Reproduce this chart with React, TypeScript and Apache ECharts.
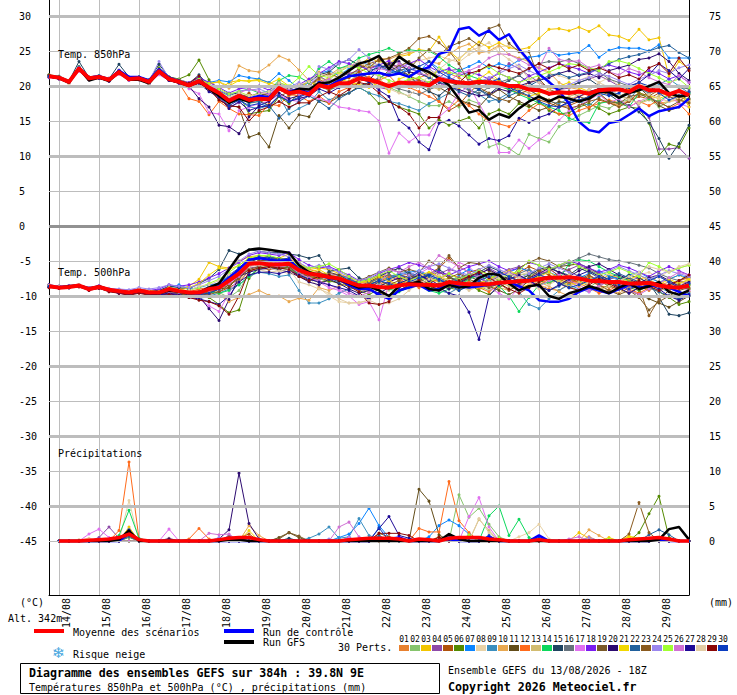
import React, { useEffect, useRef } from "react";
import * as echarts from "echarts";

const DATES = ["14/08","15/08","16/08","17/08","18/08","19/08","20/08","21/08","22/08","23/08","24/08","25/08","26/08","27/08","28/08","29/08"];
const LEFT_TICKS = [30,25,20,15,10,5,0,-5,-10,-15,-20,-25,-30,-35,-40,-45];
const RIGHT_TICKS = [75,70,65,60,55,50,45,40,35,30,25,20,15,10,5,0];
const MAJOR_LINES = [30,20,10,-10,-20,-30,-40];
const MINOR_LINES = [25,15,5,-5,-15,-25,-35,-45];
const COLORS = ["#e8812f","#86c46c","#f2c500","#8e4aa8","#b0520a","#548a00","#0a84ff","#e8d2a6","#3a8fbf","#e8a850","#624c18","#ff6a1a","#d2bc70","#0cd85c","#1f4460","#66727c","#e070f0","#7a1cf0","#7a5a28","#2c0a70","#f2d800","#20609c","#8a5a1e","#9a86ee","#a0ff30","#d070d4","#1e0a96","#e2cca4","#8a0606","#0a3cc0"];

// Members are stored in tenths of a degree.
const T850 = [
[215,212,207,224,212,213,210,219,211,212,207,220,211,
207,202,208,199,190,179,186,178,181,183,197,186,190,
187,199,195,201,207,216,213,207,201,205,208,212,217,
221,218,212,203,196,202,208,199,195,205,210,195,187,
182,185,190,197,199,201,196,205,198,193,187,184,180],
[214,211,205,223,210,212,208,219,209,210,205,219,209,
205,201,205,197,188,176,184,175,178,180,195,189,196,
194,212,208,222,216,220,210,205,198,192,185,178,172,
172,178,170,180,175,113,118,111,101,131,125,120,142,
150,158,165,172,168,177,180,176,182,170,178,186,181],
[213,211,206,226,211,214,209,221,210,212,207,222,209,
206,200,206,197,195,205,208,207,210,205,200,195,192,
190,205,212,218,222,230,240,235,232,242,245,252,250,
270,250,238,252,263,255,262,255,252,255,268,281,282,
279,284,278,286,273,271,265,281,266,269,214,235,225],
[216,213,207,226,213,215,211,223,212,213,208,223,212,
208,204,210,200,185,170,176,182,186,190,205,196,194,
200,215,205,212,218,222,210,198,195,202,206,208,205,
212,222,224,210,203,208,220,232,225,215,205,198,195,
197,205,210,215,208,200,190,170,155,110,110,112,97],
[214,212,206,225,211,213,209,220,210,211,206,221,210,
206,201,204,194,186,176,182,190,180,172,185,192,198,
200,210,200,206,212,220,226,230,222,225,215,208,195,
178,165,173,190,203,210,200,195,190,185,180,176,170,
172,178,168,180,176,172,178,185,182,190,188,186,192],
[216,214,208,228,212,214,210,222,212,213,209,226,213,
210,216,237,209,195,180,188,160,163,165,185,175,190,
198,205,195,200,205,198,190,175,178,170,165,160,140,
152,144,150,155,140,160,166,160,175,170,178,165,160,
162,170,175,168,160,165,170,168,147,101,117,113,140],
[215,214,208,227,213,215,211,222,212,213,209,223,212,
208,204,212,205,208,206,215,212,210,205,218,208,196,
205,218,222,215,225,235,230,228,222,218,225,220,235,
225,215,222,228,235,226,232,228,237,241,243,250,244,
246,248,258,241,251,255,254,254,250,259,240,240,240],
[213,211,205,222,210,212,208,218,209,210,205,218,209,
206,200,204,196,190,182,188,178,182,186,198,190,195,
200,212,205,216,222,236,228,232,225,230,233,236,240,
243,238,234,245,252,248,256,258,250,232,225,218,215,
210,208,214,205,212,200,195,205,198,192,190,195,200],
[214,212,206,224,211,212,209,219,210,211,206,220,210,
205,200,205,196,188,175,180,170,168,172,186,160,168,
175,192,180,186,190,198,190,186,178,175,170,165,175,
182,190,205,195,188,178,182,190,198,195,185,178,175,
182,178,172,185,192,188,180,198,190,202,210,200,190],
[215,213,207,226,213,214,210,221,211,212,207,222,211,
208,203,210,203,206,197,229,222,220,230,243,237,223,
208,220,215,225,228,232,226,240,238,244,248,250,235,
232,245,255,260,247,250,258,245,240,235,226,220,205,
198,195,190,188,178,172,180,190,182,175,178,180,175],
[214,212,206,224,210,212,208,219,209,210,205,220,209,
205,200,206,197,180,172,170,127,132,113,158,140,159,
156,180,176,185,190,200,205,210,222,228,235,225,215,
198,190,180,175,170,186,195,185,178,172,165,170,178,
175,180,185,192,188,185,192,198,185,172,165,170,182],
[213,210,205,222,209,211,207,217,208,209,204,217,208,
204,182,178,159,178,168,160,159,158,174,172,188,186,
178,186,175,192,198,206,212,208,215,200,198,192,185,
178,168,180,172,160,150,146,142,152,165,175,168,160,
158,165,170,175,180,176,170,178,172,180,168,175,160],
[214,212,206,225,211,213,209,220,210,211,207,220,210,
206,201,206,198,191,183,187,182,186,188,198,192,197,
194,206,200,210,215,210,206,200,205,198,210,205,200,
195,205,202,198,205,212,208,200,195,190,186,180,182,
185,190,195,188,192,186,182,175,180,186,190,180,178],
[215,213,207,225,212,213,210,220,211,211,208,221,212,
208,203,208,200,193,186,192,196,190,193,208,215,213,
205,225,235,225,230,240,245,249,254,247,252,250,250,
242,230,222,215,210,205,200,195,188,182,176,170,165,
154,149,148,175,178,176,170,190,182,178,188,192,190],
[214,213,207,235,212,214,210,231,213,213,208,231,213,
209,204,216,200,193,188,190,182,186,190,203,196,200,
206,216,220,232,238,230,222,226,230,220,216,200,192,
186,198,205,200,195,188,200,208,215,205,195,188,195,
200,205,210,200,188,178,172,163,148,125,97,118,144],
[214,212,207,225,211,213,209,220,211,211,206,221,210,
206,201,207,198,190,180,186,180,183,182,196,188,190,
186,200,194,200,205,212,208,204,200,196,192,188,195,
200,206,200,194,190,198,205,210,215,225,232,235,234,
238,232,225,220,210,205,200,196,190,194,200,198,196],
[212,210,205,221,209,211,207,217,208,209,204,216,208,
204,196,189,162,160,136,165,170,175,178,188,180,178,
188,182,178,170,168,165,163,150,104,133,120,130,130,
156,168,190,200,175,150,105,105,123,111,123,133,151,
165,172,180,188,176,182,170,178,184,176,186,175,170],
[215,213,208,226,213,214,211,222,212,212,208,224,212,
209,205,212,205,198,190,196,198,200,194,205,198,202,
210,218,226,235,232,228,224,230,236,225,232,238,228,
220,225,215,220,216,210,218,212,205,214,220,226,232,
228,224,218,225,230,226,220,216,222,218,210,215,205],
[214,212,206,225,212,213,209,220,210,211,206,221,210,
206,201,207,199,191,182,188,184,180,186,198,192,196,
200,212,218,212,222,230,226,238,230,228,224,240,252,
244,256,262,268,258,282,287,261,249,249,210,195,190,
192,185,180,190,178,175,185,188,184,176,170,178,188],
[213,211,205,224,210,212,208,219,209,210,205,220,209,
205,200,182,170,144,142,132,156,172,178,190,182,186,
190,205,198,200,206,212,208,225,232,235,220,218,212,
205,198,195,190,186,188,196,192,200,205,208,212,218,
222,215,218,212,222,226,230,238,240,246,235,218,208],
[214,212,207,225,212,213,210,220,211,211,207,221,211,
207,203,209,204,206,200,208,207,208,203,210,200,198,
206,200,195,210,206,202,198,205,192,210,215,222,225,
212,200,198,205,210,220,208,200,192,185,190,196,200,
205,198,192,190,195,200,196,190,186,182,188,194,170],
[214,213,207,226,212,214,210,221,212,212,208,223,212,
208,203,208,197,186,178,182,176,178,172,154,168,178,
186,178,168,182,190,198,205,212,218,222,226,220,212,
206,200,192,186,195,185,178,186,192,200,208,215,218,
212,216,220,225,232,238,242,245,250,255,258,248,240],
[215,212,206,224,211,213,209,220,210,212,207,221,210,
207,202,207,198,189,182,187,185,190,186,195,188,194,
198,206,196,204,215,225,232,236,240,246,254,268,271,
262,250,232,205,198,190,182,178,188,195,186,180,172,
168,172,178,182,176,170,178,190,186,194,185,180,176],
[214,212,206,226,212,213,210,221,211,212,207,235,211,
208,204,209,201,194,187,193,194,196,190,204,198,205,
196,228,224,232,238,252,240,228,220,226,232,218,225,
214,210,205,198,206,212,218,225,230,222,215,205,198,
202,208,212,218,214,208,202,210,215,222,218,226,230],
[215,213,208,225,213,214,210,221,212,212,208,222,212,
209,204,210,202,196,189,192,186,188,192,205,200,212,
228,215,212,220,228,226,218,215,208,204,210,212,205,
226,220,216,212,222,228,218,212,205,210,215,220,226,
232,230,226,222,235,236,232,225,218,212,205,210,198],
[213,211,206,224,211,212,209,219,210,211,206,220,210,
206,202,206,196,188,182,190,196,192,188,200,194,188,
192,205,210,205,200,212,218,225,222,232,226,218,215,
200,206,218,222,228,240,246,245,238,230,226,254,238,
235,236,226,230,220,216,225,220,212,206,202,215,205],
[213,210,205,223,209,211,207,218,209,209,203,219,208,
204,199,204,192,184,168,178,165,170,172,186,178,182,
186,196,190,198,205,210,206,194,185,151,140,120,109,
147,151,143,130,117,125,122,129,154,148,155,160,170,
178,185,192,196,190,195,200,205,216,232,222,210,225],
[214,212,202,224,211,213,209,219,210,211,201,220,210,
207,202,206,199,192,184,190,186,188,192,204,198,202,
206,218,214,222,228,236,224,212,196,190,186,200,215,
224,235,240,250,255,262,248,238,228,210,205,195,186,
180,188,194,205,198,186,180,176,188,182,178,185,192],
[215,213,207,225,212,214,210,221,211,212,207,223,212,
208,204,214,196,180,172,170,150,165,170,178,170,176,
176,185,192,186,195,205,202,190,178,170,160,140,155,
155,195,205,218,222,230,226,222,218,225,232,225,232,
225,230,222,226,220,212,216,210,226,232,218,240,222],
[214,212,206,225,211,213,209,220,211,211,206,221,211,
207,202,208,198,186,172,180,172,175,170,186,178,184,
190,205,198,208,215,212,218,230,225,218,222,228,235,
220,212,206,200,196,205,210,198,192,186,178,172,170,
176,180,184,190,186,190,198,205,200,190,180,186,192],
];
const T850_CONTROL = [214,212,206,226,212,214,209,222,213,213,208,224,212,
207,202,208,199,190,180,186,182,186,184,196,192,196,
190,205,200,208,214,216,218,219,215,218,213,222,227,
246,250,281,284,272,279,266,274,253,236,217,206,193,
175,149,137,134,147,150,159,168,157,164,167,170,182];
const T850_GFS = [214,211,205,225,208,212,207,221,209,209,204,220,209,
205,200,206,196,186,176,182,178,182,180,196,190,196,
195,204,205,212,222,232,236,243,224,242,232,225,220,
211,201,182,162,166,152,160,155,168,178,185,178,185,
182,178,182,192,192,183,190,194,200,206,190,185,187];
const T850_MEAN = [214,212,206,225,211,213,209,220,210,211,206,221,210,
206,201,207,198,190,179,186,180,182,181,197,190,192,
188,201,198,204,204,211,209,205,200,205,204,204,201,
210,207,205,204,206,205,204,200,200,195,194,189,191,
190,192,189,194,195,195,192,200,194,194,188,193,187];

const T500 = [
[-85,-87,-86,-85,-89,-88,-92,-94,-95,-93,-96,-97,-92,
-95,-98,-98,-92,-88,-75,-62,-52,-50,-50,-48,-46,-55,
-62,-66,-70,-72,-78,-85,-88,-80,-88,-92,-85,-78,-75,
-72,-85,-90,-80,-82,-76,-70,-78,-85,-80,-84,-90,-92,
-82,-75,-78,-85,-88,-82,-78,-85,-92,-85,-80,-88,-85],
[-86,-87,-86,-86,-90,-87,-91,-92,-94,-92,-94,-95,-90,
-92,-96,-94,-92,-95,-102,-92,-68,-56,-52,-55,-56,-68,
-74,-75,-80,-78,-84,-90,-82,-78,-85,-82,-76,-80,-88,
-92,-84,-80,-78,-86,-92,-85,-75,-70,-68,-72,-78,-80,
-86,-92,-88,-78,-76,-72,-80,-84,-78,-72,-78,-84,-90],
[-84,-87,-87,-84,-89,-86,-90,-92,-94,-90,-94,-93,-88,
-90,-86,-76,-52,-58,-60,-50,-44,-42,-44,-46,-40,-52,
-62,-60,-62,-68,-74,-78,-82,-72,-70,-78,-86,-84,-80,
-78,-74,-76,-84,-90,-86,-78,-82,-88,-84,-76,-72,-78,
-84,-80,-74,-78,-70,-74,-82,-76,-72,-80,-76,-70,-78],
[-87,-89,-88,-86,-91,-88,-93,-96,-98,-95,-98,-99,-96,
-97,-100,-102,-96,-90,-80,-72,-60,-58,-60,-58,-56,-70,
-76,-72,-68,-70,-74,-82,-78,-70,-66,-60,-66,-72,-78,
-68,-62,-66,-74,-70,-60,-68,-62,-58,-66,-70,-74,-68,
-62,-56,-62,-70,-76,-72,-78,-74,-82,-90,-84,-78,-82],
[-86,-88,-87,-85,-90,-87,-92,-95,-98,-94,-98,-98,-94,
-96,-97,-100,-96,-94,-88,-80,-64,-60,-62,-60,-58,-66,
-70,-74,-78,-72,-80,-88,-82,-74,-70,-72,-68,-74,-68,
-60,-46,-58,-66,-62,-70,-78,-72,-66,-58,-64,-70,-76,
-82,-78,-72,-76,-82,-86,-78,-84,-90,-82,-92,-100,-94],
[-86,-88,-87,-86,-90,-88,-92,-93,-96,-93,-97,-95,-92,
-95,-98,-102,-102,-112,-124,-120,-75,-60,-58,-62,-58,-70,
-76,-80,-78,-82,-86,-92,-98,-90,-84,-88,-80,-86,-90,
-82,-88,-92,-84,-92,-98,-88,-80,-76,-70,-78,-82,-74,
-70,-78,-86,-92,-84,-80,-88,-92,-86,-94,-102,-112,-108],
[-85,-86,-86,-84,-88,-86,-90,-92,-94,-91,-94,-92,-88,
-84,-90,-88,-84,-82,-72,-60,-52,-46,-44,-50,-48,-58,
-66,-72,-76,-70,-76,-84,-86,-78,-74,-70,-66,-64,-70,
-76,-82,-70,-62,-68,-74,-70,-66,-60,-64,-70,-66,-72,
-78,-74,-68,-64,-72,-76,-70,-66,-74,-80,-76,-70,-74],
[-86,-88,-88,-86,-90,-88,-91,-94,-95,-93,-95,-97,-93,
-95,-97,-96,-94,-90,-82,-78,-60,-62,-66,-64,-68,-70,
-74,-88,-100,-108,-110,-109,-106,-98,-92,-86,-80,-76,-84,
-90,-96,-88,-80,-84,-90,-82,-76,-70,-66,-72,-80,-76,
-70,-76,-82,-74,-68,-72,-78,-70,-66,-74,-64,-60,-56],
[-87,-88,-87,-85,-90,-87,-91,-93,-96,-92,-95,-96,-94,
-96,-100,-104,-100,-96,-90,-84,-72,-66,-68,-72,-70,-92,
-110,-110,-104,-96,-90,-88,-84,-78,-72,-68,-66,-74,-84,
-92,-96,-88,-80,-86,-78,-70,-82,-94,-112,-118,-104,-92,
-84,-90,-94,-86,-78,-84,-90,-82,-76,-88,-94,-100,-96],
[-85,-87,-86,-85,-89,-86,-90,-92,-94,-90,-94,-94,-90,
-92,-94,-92,-90,-98,-108,-102,-98,-92,-99,-100,-108,-103,
-106,-88,-92,-86,-82,-90,-94,-86,-78,-72,-76,-70,-74,
-80,-84,-78,-70,-74,-80,-88,-92,-84,-78,-80,-86,-94,
-100,-94,-90,-86,-92,-96,-88,-82,-88,-94,-86,-80,-84],
[-86,-88,-87,-86,-91,-88,-93,-95,-97,-94,-98,-100,-96,
-96,-92,-98,-96,-90,-88,-70,-52,-46,-45,-48,-46,-60,
-68,-72,-66,-70,-78,-88,-90,-96,-100,-92,-86,-78,-70,
-66,-74,-80,-72,-78,-86,-92,-98,-90,-78,-70,-64,-58,
-56,-54,-60,-68,-78,-86,-92,-98,-104,-110,-116,-108,-100],
[-85,-86,-87,-84,-89,-86,-90,-92,-93,-91,-93,-94,-89,
-90,-94,-90,-88,-84,-74,-64,-56,-50,-52,-54,-52,-64,
-72,-76,-70,-76,-84,-92,-86,-80,-72,-76,-82,-88,-80,
-76,-68,-74,-80,-88,-94,-84,-76,-72,-78,-84,-76,-70,
-76,-82,-88,-96,-92,-84,-90,-96,-88,-80,-86,-78,-74],
[-86,-88,-86,-85,-90,-87,-91,-93,-95,-92,-95,-95,-90,
-93,-95,-95,-90,-86,-76,-70,-56,-54,-56,-57,-55,-64,
-70,-72,-75,-78,-84,-88,-92,-86,-80,-84,-78,-72,-80,
-86,-82,-76,-84,-78,-72,-80,-86,-92,-86,-78,-74,-80,
-86,-80,-84,-90,-86,-78,-74,-80,-76,-84,-90,-82,-78],
[-87,-88,-88,-86,-90,-88,-92,-94,-96,-93,-96,-96,-92,
-94,-96,-96,-94,-96,-92,-84,-72,-60,-56,-60,-62,-68,
-76,-72,-70,-74,-80,-88,-92,-84,-90,-94,-88,-82,-92,
-96,-90,-84,-76,-70,-78,-86,-100,-122,-102,-84,-80,-76,
-54,-48,-50,-58,-66,-72,-78,-84,-78,-72,-80,-88,-84],
[-84,-86,-85,-84,-88,-86,-90,-92,-93,-90,-93,-92,-86,
-88,-90,-82,-75,-62,-35,-40,-34,-36,-38,-38,-40,-42,
-46,-42,-65,-62,-60,-74,-80,-72,-66,-60,-68,-76,-70,
-62,-72,-80,-74,-66,-58,-64,-72,-78,-70,-62,-58,-66,
-70,-60,-66,-74,-80,-76,-70,-74,-82,-102,-126,-128,-124],
[-86,-87,-87,-85,-90,-87,-91,-93,-95,-92,-95,-95,-92,
-94,-96,-98,-92,-88,-78,-66,-54,-50,-48,-54,-58,-72,
-78,-76,-70,-78,-82,-86,-80,-76,-70,-78,-84,-76,-68,
-74,-80,-74,-68,-74,-82,-78,-72,-68,-62,-70,-64,-58,
-52,-46,-40,-44,-48,-50,-52,-56,-60,-68,-74,-78,-72],
[-87,-89,-88,-86,-92,-88,-93,-95,-97,-94,-97,-98,-96,
-98,-102,-104,-114,-122,-96,-72,-56,-52,-54,-52,-56,-66,
-74,-80,-88,-92,-100,-112,-108,-134,-82,-72,-72,-68,-60,
-74,-66,-52,-58,-72,-88,-96,-104,-88,-76,-68,-62,-70,
-80,-88,-94,-84,-76,-82,-90,-84,-78,-72,-80,-86,-92],
[-84,-86,-85,-84,-88,-85,-90,-91,-92,-90,-92,-90,-84,
-86,-84,-80,-74,-68,-60,-52,-42,-38,-40,-42,-38,-48,
-56,-60,-58,-64,-70,-78,-76,-68,-62,-58,-52,-56,-60,
-66,-70,-64,-58,-54,-50,-58,-64,-60,-52,-56,-62,-56,
-50,-54,-60,-66,-62,-56,-60,-66,-72,-64,-58,-64,-70],
[-86,-88,-87,-85,-90,-87,-92,-93,-96,-92,-96,-96,-94,
-96,-98,-100,-98,-94,-84,-74,-62,-58,-56,-60,-58,-72,
-70,-66,-72,-78,-84,-78,-72,-66,-60,-66,-62,-66,-50,
-58,-42,-60,-52,-54,-64,-70,-76,-60,-52,-46,-50,-58,
-64,-72,-78,-84,-92,-98,-92,-102,-120,-108,-100,-92,-88],
[-87,-88,-88,-86,-91,-88,-92,-96,-97,-94,-97,-98,-96,
-98,-98,-100,-118,-135,-105,-72,-66,-62,-60,-62,-66,-72,
-80,-84,-76,-82,-90,-96,-92,-86,-80,-74,-78,-70,-76,
-84,-90,-82,-74,-68,-62,-70,-76,-82,-74,-68,-60,-66,
-72,-64,-58,-54,-62,-70,-76,-82,-74,-70,-78,-86,-80],
[-85,-87,-86,-84,-89,-86,-90,-92,-93,-91,-92,-94,-88,
-92,-88,-82,-70,-60,-62,-56,-46,-44,-46,-48,-46,-58,
-66,-62,-70,-76,-80,-82,-78,-72,-78,-84,-76,-70,-66,
-72,-78,-84,-90,-82,-76,-70,-64,-70,-78,-72,-66,-74,
-80,-86,-78,-72,-78,-84,-76,-70,-78,-84,-76,-82,-76],
[-86,-88,-87,-85,-90,-87,-91,-93,-95,-93,-95,-95,-92,
-94,-96,-94,-86,-82,-70,-60,-50,-46,-44,-46,-50,-60,
-66,-70,-74,-80,-76,-82,-88,-80,-76,-70,-74,-66,-72,
-78,-82,-76,-70,-74,-80,-72,-66,-72,-78,-86,-92,-86,
-78,-70,-76,-82,-74,-68,-74,-80,-88,-94,-100,-104,-100],
[-86,-87,-87,-85,-90,-88,-92,-94,-96,-93,-96,-97,-93,
-96,-100,-98,-94,-90,-84,-76,-58,-50,-48,-46,-50,-66,
-72,-74,-70,-76,-84,-90,-84,-78,-84,-78,-70,-76,-82,
-88,-74,-68,-76,-82,-88,-82,-92,-84,-74,-64,-60,-72,
-80,-76,-70,-78,-86,-90,-96,-88,-128,-104,-92,-84,-90],
[-85,-86,-86,-84,-88,-86,-89,-90,-91,-88,-90,-88,-84,
-86,-88,-84,-78,-72,-62,-50,-40,-36,-38,-40,-44,-52,
-60,-56,-60,-66,-72,-78,-74,-66,-62,-66,-70,-64,-58,
-54,-60,-66,-70,-62,-56,-62,-68,-74,-68,-60,-54,-60,
-66,-72,-78,-70,-64,-58,-64,-70,-76,-70,-64,-68,-72],
[-86,-87,-87,-85,-89,-87,-91,-92,-94,-91,-94,-94,-90,
-93,-92,-88,-82,-76,-66,-56,-46,-42,-42,-46,-50,-56,
-60,-58,-54,-62,-72,-80,-76,-70,-64,-72,-78,-72,-80,
-74,-68,-76,-70,-64,-70,-76,-70,-64,-50,-56,-62,-56,
-50,-58,-64,-70,-66,-60,-66,-72,-52,-58,-66,-60,-56],
[-86,-88,-87,-85,-91,-88,-92,-94,-96,-93,-96,-96,-94,
-95,-97,-96,-92,-90,-82,-72,-58,-54,-56,-58,-56,-68,
-74,-78,-84,-90,-96,-100,-95,-85,-62,-66,-58,-52,-60,
-42,-50,-58,-66,-74,-80,-70,-66,-72,-80,-86,-78,-72,
-78,-84,-92,-86,-78,-84,-92,-98,-90,-82,-74,-66,-70],
[-87,-89,-88,-86,-91,-89,-93,-96,-98,-95,-98,-98,-97,
-99,-102,-104,-108,-112,-100,-80,-70,-66,-66,-68,-64,-70,
-76,-80,-84,-88,-92,-100,-104,-96,-88,-82,-76,-70,-78,
-88,-96,-100,-123,-162,-100,-84,-76,-70,-78,-86,-92,-84,
-76,-70,-64,-72,-80,-88,-96,-88,-84,-90,-100,-106,-98],
[-85,-87,-86,-84,-89,-86,-90,-92,-94,-90,-94,-94,-89,
-92,-92,-86,-84,-78,-70,-62,-58,-56,-60,-64,-62,-80,
-84,-90,-96,-104,-110,-110,-106,-112,-110,-104,-92,-82,-76,
-70,-78,-86,-92,-86,-80,-74,-68,-74,-82,-90,-84,-76,
-70,-76,-84,-92,-86,-78,-72,-66,-58,-62,-66,-58,-54],
[-88,-89,-88,-87,-92,-89,-94,-96,-99,-96,-99,-100,-98,
-100,-102,-106,-108,-114,-126,-100,-64,-60,-58,-60,-62,-72,
-78,-72,-70,-78,-86,-94,-110,-112,-108,-92,-84,-78,-86,
-90,-84,-78,-72,-66,-74,-82,-90,-96,-88,-80,-74,-82,
-88,-92,-84,-76,-82,-90,-84,-78,-86,-92,-84,-78,-70],
[-86,-88,-87,-86,-90,-88,-92,-94,-96,-93,-96,-96,-92,
-94,-96,-98,-96,-90,-76,-60,-48,-44,-46,-48,-46,-62,
-68,-70,-72,-76,-82,-88,-84,-78,-82,-88,-80,-74,-70,
-76,-84,-92,-86,-78,-72,-66,-72,-80,-76,-70,-74,-82,
-88,-84,-78,-72,-76,-84,-90,-84,-78,-72,-80,-88,-82],
];
const T500_CONTROL = [-86,-88,-87,-85,-90,-87,-91,-93,-95,-92,-95,-95,-91,
-93,-95,-96,-90,-86,-74,-62,-48,-46,-48,-50,-48,-62,
-68,-70,-74,-76,-84,-90,-90,-98,-104,-92,-88,-84,-92,
-90,-80,-86,-88,-86,-84,-82,-80,-86,-92,-106,-108,-108,
-104,-94,-88,-92,-96,-90,-84,-88,-86,-84,-88,-94,-100];
const T500_GFS = [-86,-88,-86,-85,-90,-86,-91,-93,-96,-93,-96,-96,-92,
-94,-96,-95,-88,-82,-62,-42,-34,-32,-34,-36,-38,-56,
-66,-70,-72,-76,-82,-88,-86,-92,-100,-86,-82,-80,-90,
-92,-84,-88,-86,-74,-68,-70,-82,-92,-86,-84,-100,-104,
-96,-92,-86,-90,-96,-88,-82,-90,-86,-80,-94,-98,-92];
const T500_MEAN = [-86,-88,-87,-85,-90,-87,-91,-93,-95,-92,-95,-95,-90,
-93,-95,-95,-90,-88,-78,-68,-54,-53,-55,-55,-54,-63,
-68,-70,-73,-75,-80,-85,-85,-87,-88,-85,-83,-84,-84,
-85,-80,-82,-83,-83,-83,-81,-80,-79,-78,-76,-74,-74,
-73,-75,-78,-79,-80,-80,-82,-82,-81,-85,-87,-88,-85];

// Rain: [time step, mm] for the steps that rise above zero.
const RAIN = [
[[8,.8],[20,.6],[40,.8],[42,.7],[54,.6]],
[[8,.5],[41,6.6],[42,3.4],[43,4.7],[44,2.4],[45,.6]],
[[8,2],[20,.5],[53,1.2],[54,.4],[56,.5],[58,.6]],
[[5,.5],[6,2],[7,.4],[8,1.5],[12,.4],[18,.8],[30,.5]],
[[19,.5],[20,1],[39,.6],[62,.4]],
[[8,.6],[59,1.2],[60,3.9],[61,6.4],[62,.5]],
[[29,.5],[30,1],[31,2.5],[32,4.7],[33,2.2],[34,.5],[38,.6],[39,2.2],[40,3],[41,2.2],[42,1]],
[[3,.2],[4,.4],[8,5.8],[47,.6],[48,1.2],[49,2.4],[50,.3]],
[[8,.6],[26,.4],[27,1],[28,2],[29,.4],[30,.6],[31,3.2],[32,.8],[33,.3]],
[[20,2.2],[21,.8],[44,.6],[54,1.6],[55,.8]],
[[8,.8],[23,.5],[24,1.2],[25,.5],[37,7.4],[38,5.7],[39,.9]],
[[7,1.5],[8,11.3],[9,.3],[14,.3],[15,1.8],[16,.3],[37,1.8],[38,1.3],[39,1.3],[40,8.5],[41,2.9],[42,1.2]],
[[8,.7],[43,3.1],[44,1.5]],
[[7,.8],[8,4.4],[9,.4],[44,3.6],[45,5],[46,.8],[47,3.1],[48,.5]],
[[8,1.2],[24,.4],[61,.5]],
[[8,.6],[33,.6]],
[[4,1],[5,1.7],[6,.5],[12,1.7],[30,.5],[42,3.5],[43,6.2],[44,2]],
[[8,.9],[18,.5],[19,.3]],
[[12,.3],[18,.6],[20,.4],[23,.3],[24,1.2],[25,.7]],
[[12,.2],[17,.3],[18,1.6],[19,9.7],[20,2.5],[21,.3]],
[[20,1.5],[58,.7],[59,.4]],
[[8,.7],[33,.8],[60,.9],[61,1.6],[62,.9]],
[[33,1.1],[34,.6],[58,1],[59,5.5],[60,1.2]],
[[17,.5],[28,.3],[54,.5]],
[[42,.9],[45,.4],[56,.3]],
[[16,1.1],[17,.9],[18,1],[29,2],[30,2.7],[31,.6],[52,.3],[53,.6]],
[[8,1.5],[33,1.8],[34,3.5],[35,.8],[36,.4]],
[[8,1.1],[43,3.2],[44,1.2]],
[[8,.9],[33,1.1],[34,1.1],[35,1.1],[36,.8],[39,.5]],
[[8,1.6],[33,1.9],[40,.8],[44,.8],[49,.5]],
];
const RAIN_CONTROL = [[8,1.2],[9,.1],[33,.2],[34,.3],[35,.5],[40,.3],[44,.6],[49,.8],[61,.2]];
const RAIN_GFS = [[7,.2],[8,1.5],[18,.2],[19,.2],[40,1],[41,.3],[61,.2],[62,1.7],[63,2],[64,.2]];
const RAIN_MEAN = [[4,.1],[5,.2],[6,.3],[7,.5],[8,1],[9,.2],[17,.2],[18,.4],[19,.5],[20,.5],[21,.2],[30,.2],[31,.3],[32,.4],[33,.4],[34,.4],[35,.3],[37,.3],[38,.2],[40,.4],[41,.5],[42,.5],[43,.5],[44,.3],[45,.2],[49,.2],[58,.2],[59,.3],[60,.4],[61,.5],[62,.3]];

const FONT = '"DejaVu Sans Mono", monospace';
const GRID_LEFT = 49, GRID_RIGHT = 689, GRID_BOTTOM = 595;
const Y_MIN = -52.71, Y_MAX = 32.29;

const tenths = (a) => a.map((v) => v / 10);
const rainRow = (pairs) => {
  const row = Array.from({ length: 65 }, (_, i) => (i === 0 ? null : 0));
  pairs.forEach(([i, v]) => { row[i] = v; });
  return row;
};
const isDayStep = (i) => (i - 1) % 4 === 0;

function memberSeries(data, color, yAxisIndex = 0) {
  return {
    type: "line", data, yAxisIndex, z: 3, silent: true,
    showSymbol: true, showAllSymbol: true, symbol: "circle", symbolSize: 3,
    connectNulls: false,
    lineStyle: { color, width: 1 }, itemStyle: { color },
  };
}
function heavySeries(data, color, width, z, yAxisIndex = 0) {
  return {
    type: "line", data, yAxisIndex, z, silent: true, showSymbol: false,
    lineStyle: { color, width, join: "round" }, itemStyle: { color },
  };
}
const gridLines = (values, color, width) =>
  values.map((v) => ({ yAxis: v, lineStyle: { color, width, type: "solid" } }));

function text(str, x, y, extra = {}) {
  return {
    type: "text", x, y, silent: true, z: 10,
    style: { text: str, font: `10px ${FONT}`, fill: "#000", verticalAlign: "middle", ...extra },
  };
}
function bar(x, y, w, h, fill) {
  return { type: "rect", silent: true, z: 10, shape: { x, y, width: w, height: h }, style: { fill } };
}

function legendGraphics() {
  const items = [
    text("Temp. 850hPa", 58, 54),
    text("Temp. 500hPa", 58, 272),
    text("Précipitations", 58, 453),
    text("(°C)", 20, 602),
    text("(mm)", 709, 602),
    text("Alt. 342m", 8, 618),
    bar(34, 629, 30, 4, "#ff0000"),
    text("Moyenne des scénarios", 73, 632),
    bar(224, 629, 30, 4, "#0000ff"),
    text("Run de contrôle", 263, 632),
    bar(224, 640, 30, 4, "#000000"),
    text("Run GFS", 263, 642),
    text("30 Perts.", 338, 647),
    text("❄", 52, 653, { font: `15px "DejaVu Sans"`, fill: "#4aa8e0" }),
    text("Risque neige", 73, 654),
    { type: "rect", silent: true, z: 10, shape: { x: 20.5, y: 663.5, width: 419, height: 30 }, style: { fill: "#fff", stroke: "#000", lineWidth: 1 } },
    text("Diagramme des ensembles GEFS sur 384h : 39.8N 9E", 29, 673, { font: `bold 11.6px ${FONT}` }),
    text("Températures 850hPa et 500hPa (°C) , précipitations (mm)", 29, 687),
    text("Ensemble GEFS du 13/08/2026 - 18Z", 448, 670),
    text("Copyright 2026 Meteociel.fr", 448, 687, { font: `bold 11.6px ${FONT}` }),
  ];
  COLORS.forEach((c, i) => {
    const x = 399 + i * 11;
    items.push(bar(x, 645, 10, 6, c));
    items.push(text(String(i + 1).padStart(2, "0"), x + 5, 639, { font: `8px ${FONT}`, align: "center" }));
  });
  return items;
}

export default function App() {
  const ref = useRef<HTMLDivElement>(null);
  useEffect(() => {
    document.body.style.margin = "0";
    const chart = echarts.init(ref.current, null, { renderer: "svg" });
    const labels = Array.from({ length: 65 }, (_, i) => (isDayStep(i) ? DATES[(i - 1) / 4] : ""));
    const series: any[] = [
      {
        type: "line", data: [], z: 1, silent: true,
        markLine: {
          silent: true, symbol: "none", animation: false, label: { show: false },
          data: [
            ...gridLines(MINOR_LINES, "#bdbdbd", 1),
            ...gridLines(MAJOR_LINES, "#bdbdbd", 3),
            ...gridLines([0], "#929292", 3),
          ],
        },
      },
    ];
    T850.forEach((row, i) => series.push(memberSeries(tenths(row), COLORS[i])));
    T500.forEach((row, i) => series.push(memberSeries(tenths(row), COLORS[i])));
    RAIN.forEach((row, i) => series.push(memberSeries(rainRow(row), COLORS[i], 1)));
    series.push(
      heavySeries(tenths(T850_CONTROL), "#0000ff", 2.5, 4),
      heavySeries(tenths(T500_CONTROL), "#0000ff", 2.5, 4),
      heavySeries(rainRow(RAIN_CONTROL), "#0000ff", 2.5, 4, 1),
      heavySeries(tenths(T850_GFS), "#000000", 2.5, 5),
      heavySeries(tenths(T500_GFS), "#000000", 2.5, 5),
      heavySeries(rainRow(RAIN_GFS), "#000000", 2.5, 5, 1),
      heavySeries(tenths(T850_MEAN), "#ff0000", 4, 6),
      heavySeries(tenths(T500_MEAN), "#ff0000", 4, 6),
      heavySeries(rainRow(RAIN_MEAN), "#ff0000", 3.5, 6, 1),
    );
    chart.setOption({
      animation: false,
      backgroundColor: "#fff",
      grid: { left: GRID_LEFT, right: 737 - GRID_RIGHT, top: 0, height: GRID_BOTTOM, containLabel: false },
      xAxis: {
        type: "category", data: labels, boundaryGap: false,
        axisLine: { onZero: false, lineStyle: { color: "#000", width: 1 } },
        axisTick: { show: false },
        splitLine: { show: true, interval: (i) => isDayStep(i), lineStyle: { color: "#bdbdbd", width: 1 } },
        axisLabel: {
          interval: (i) => isDayStep(i), rotate: 90, margin: 3, color: "#000",
          fontFamily: FONT, fontSize: 10, verticalAlign: "top", lineHeight: 14, hideOverlap: false,
        },
      },
      yAxis: [
        {
          type: "value", position: "left", min: Y_MIN, max: Y_MAX,
          axisLine: { show: true, onZero: false, lineStyle: { color: "#000", width: 1 } },
          axisTick: { show: false }, splitLine: { show: false },
          axisLabel: { customValues: LEFT_TICKS, align: "left", margin: 30, color: "#000", fontFamily: FONT, fontSize: 10, padding: [2, 0, 0, 0] },
        },
        {
          type: "value", position: "right", min: Y_MIN + 45, max: Y_MAX + 45,
          axisLine: { show: true, onZero: false, lineStyle: { color: "#000", width: 1 } },
          axisTick: { show: false }, splitLine: { show: false },
          axisLabel: { customValues: RIGHT_TICKS, align: "left", margin: 20, color: "#000", fontFamily: FONT, fontSize: 10, padding: [2, 0, 0, 0] },
        },
      ],
      series,
      graphic: { elements: legendGraphics() },
    });
    return () => chart.dispose();
  }, []);
  return <div ref={ref} style={{ position: "absolute", left: 0, top: 0, width: 737, height: 695 }} />;
}
